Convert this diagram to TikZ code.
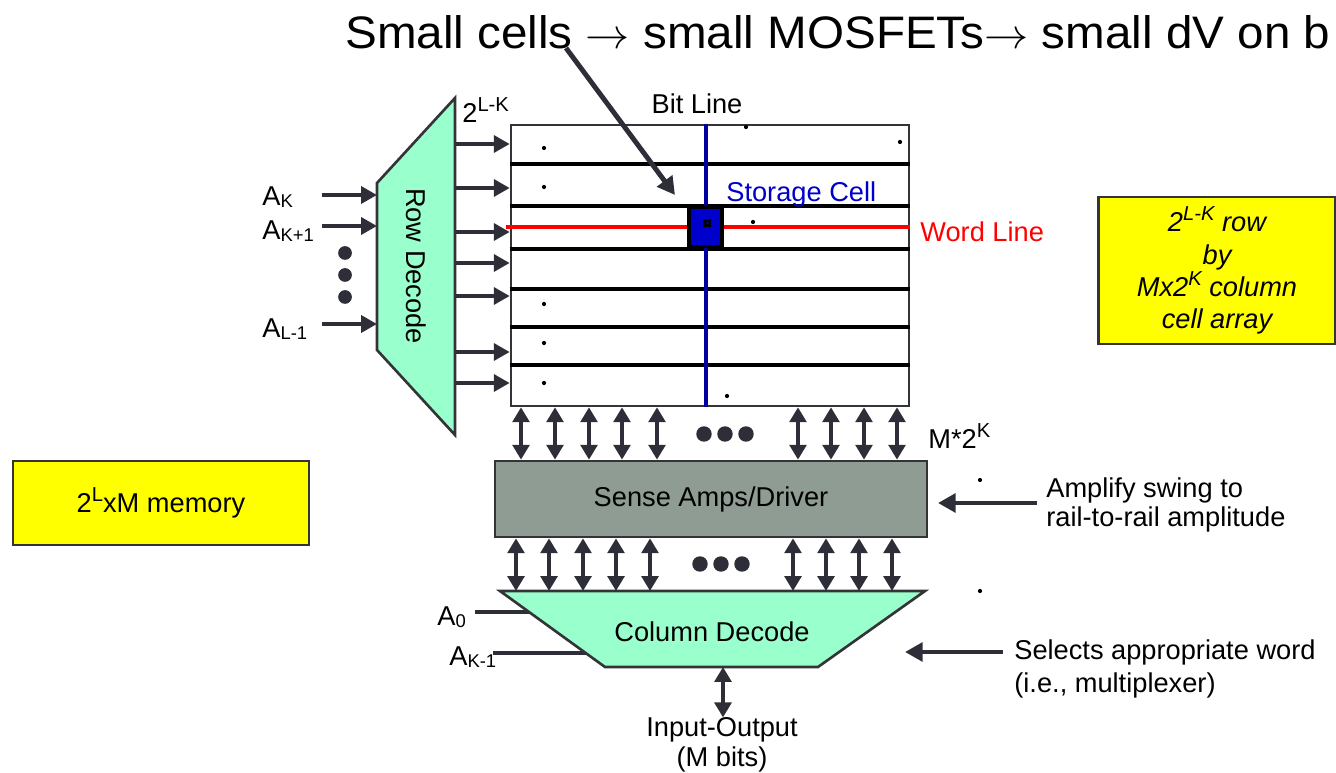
\documentclass[tikz,border=0pt]{standalone}
\usepackage{fontspec}
\usepackage{graphicx}
\setmainfont{Liberation Sans}
\usetikzlibrary{arrows.meta,calc}
\definecolor{aqua}{HTML}{99FFCC}
\definecolor{bd}{HTML}{333338}
\definecolor{ar}{HTML}{2E2E38}
\definecolor{sgray}{HTML}{8E9C93}
\definecolor{bline}{HTML}{0000A0}
\definecolor{cellblue}{HTML}{0000CC}
\definecolor{ylw}{HTML}{FFFF00}
\newcommand{\lsub}[1]{\raisebox{-1pt}{\fontsize{10.5}{11}\selectfont #1}}
\newcommand{\usup}[1]{\raisebox{6.5pt}{\fontsize{11.5}{12}\selectfont #1}}
\tikzset{
  arr/.style={line width=2.7pt, draw=ar, -{Triangle[length=9pt,width=9.5pt]}},
  darr/.style={line width=2.7pt, draw=ar, {Triangle[length=8.5pt,width=9.5pt]}-{Triangle[length=8.5pt,width=9.5pt]}},
  bigarr/.style={line width=2.8pt, draw=ar, -{Triangle[length=10pt,width=10.5pt]}},
  blk/.style={draw=bd, line width=1.5pt},
  lbl/.style={inner sep=0pt},
  bigdot/.style={fill=ar},
  speck/.style={fill=black}
}
\begin{document}
\begin{tikzpicture}[x=0.02cm,y=-0.02cm,font=\fontsize{15.5}{18}\selectfont]
\useasboundingbox (0,0) rectangle (1336,773);
\clip (0,0) rectangle (1336,773);

% title
\node[anchor=base west, inner sep=0pt] (title) at (345,49)
  {\resizebox{19.7cm}{0.66cm}{Small cells $\rightarrow$ small MOSFETs$\rightarrow$ small dV on b}};

% cell array
\node[blk, draw=bd, fill=white, minimum width=7.96cm, minimum height=5.62cm, inner sep=0pt] (array) at (710,265.5) {};
\foreach \y in {164,206,249,289,327,365}
  \draw[line width=2.3pt, black] (array.west |- 0,\y) -- (array.east |- 0,\y);
\draw[line width=2.3pt, bline] (array.north -| 706,0) -- (array.south -| 706,0);
\coordinate (wlL) at (506,227);
\draw[line width=2.3pt, red] (wlL) -- (array.east |- wlL);
\node[draw=black, line width=1.8pt, fill=cellblue, minimum width=0.66cm, minimum height=0.78cm, inner sep=0pt] (cell) at (705.5,227) {};
\node[fill=black, minimum size=0.16cm, inner sep=0pt] (cellc) at (707,223) {};
\fill[cellblue] (cellc.center) ++(0.5,0) circle (0.8pt);
\node[lbl] (bitline) at (697,104) {Bit Line};
\node[lbl, anchor=west, text=cellblue] (storage) at (726,194) {Storage Cell};
\node[lbl, anchor=west, text=red] (wordline) at (920,232) {Word Line};

% specks
\foreach \p in {(544,148),(544,187),(746,127),(900,142),(753,222),(544,304),(544,343),(544,383),(727,396),(980,480),(980,591)}
  \fill[speck] \p circle (1.2pt);

% pointer arrow from title
\coordinate (ptrS) at (566,48);
\coordinate (ptrE) at (675,195);
\draw[bigarr] (ptrS) -- (ptrE);

% row decoder
\draw[blk, fill=aqua] (377,183) coordinate (rdTL) -- (455,98) coordinate (rdTR) -- (455,435) coordinate (rdBR) -- (377,350) coordinate (rdBL) -- cycle;
\node[rotate=-90] (rowdec) at (416,266) {Row Decode};
\foreach \y in {144,188,232,263,296,352,383}
  \draw[arr] (rdTR |- 0,\y) -- (array.west |- 0,\y);
\node[anchor=base west, lbl] (lk) at (462,123) {2\usup{L-K}};

% row address inputs
\node[lbl, anchor=west] (ak) at (262,197) {A\lsub{K}};
\node[lbl, anchor=west] (ak1) at (262,231) {A\lsub{K+1}};
\node[lbl, anchor=west] (al1) at (262,329) {A\lsub{L-1}};
\draw[arr] (322,195) -- (rdTL |- 0,195);
\draw[arr] (322,226) -- (rdTL |- 0,226);
\draw[arr] (322,324) -- (rdTL |- 0,324);
\foreach \y in {253,275,297} \fill[bigdot] (345,\y) circle (3.9pt);

% sense amps
\node[blk, fill=sgray, minimum width=8.64cm, minimum height=1.52cm, inner sep=0pt] (sense) at (711,499) {Sense Amps/Driver};
\foreach \x in {521,555,589,622,657,798,831,864,897}
  \draw[darr] (array.south -| \x,0) -- (sense.north -| \x,0);
\foreach \x in {704,725,746} \fill[bigdot] (\x,434) circle (4.4pt);
\node[anchor=base west, lbl] (m2k) at (928,449) {M*2\usup{K}};

% column decoder inputs (behind)
\node[lbl, anchor=west] (a0) at (437,617) {A\lsub{0}};
\node[lbl, anchor=west] (akm1) at (449,657) {A\lsub{K-1}};
\coordinate (a0s) at (475,612);
\coordinate (akm1s) at (493,653);
\draw[line width=2.6pt, ar] (a0s) -- (545,612);
\draw[line width=2.6pt, ar] (akm1s) -- (592,653);

% column decoder
\draw[blk, fill=aqua] (500,591) coordinate (cdTL) -- (925,591) coordinate (cdTR) -- (818,667) coordinate (cdBR) -- (605,667) coordinate (cdBL) -- cycle;
\node (coldec) at (712,632) {Column Decode};
\foreach \x in {516,549,583,616,650,793,826,859,892}
  \draw[darr] (sense.south -| \x,0) -- (cdTL -| \x,0);
\foreach \x in {700,721,742} \fill[bigdot] (\x,564) circle (4.4pt);

% IO
\node[lbl, align=center, font=\fontsize{15.5}{17}\selectfont] (io) at (722,745) {Input-Output\\(M bits)};
\draw[darr] (723,667) -- (io.north -| 723,0);

% right annotations
\node[lbl, anchor=west, align=left, font=\fontsize{15.5}{16}\selectfont] (amp) at (1046,505) {Amplify swing to\\rail-to-rail amplitude};
\coordinate (ampS) at (1037,503);
\coordinate (ampE) at (938,503);
\draw[bigarr] (ampS) -- (ampE);
\node[lbl, anchor=west, align=left, font=\fontsize{15.5}{19.3}\selectfont] (sel) at (1014,669) {Selects appropriate word\\(i.e., multiplexer)};
\coordinate (selS) at (1003,652);
\coordinate (selE) at (905,652);
\draw[bigarr] (selS) -- (selE);

\node[draw=bd, line width=1.5pt, fill=ylw, minimum width=4.74cm, minimum height=2.94cm, inner sep=0pt, align=center,
      font=\fontsize{15.5}{18.4}\selectfont\itshape] (cellbox) at (1217,270.5)
  {2\usup{L-K} row\\by\\Mx2\usup{K} column\\cell array};
\node[draw=bd, line width=1.5pt, fill=ylw, minimum width=5.92cm, minimum height=1.68cm, inner sep=0pt] (membox) at (161,503)
  {2\usup{L}xM memory};
\end{tikzpicture}
\end{document}
